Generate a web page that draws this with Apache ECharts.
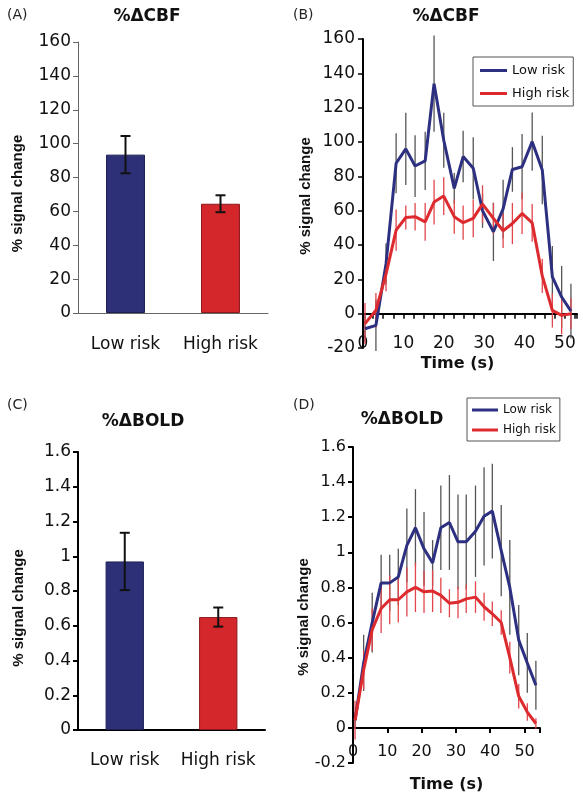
<!DOCTYPE html>
<html>
<head>
<meta charset="utf-8">
<script src="https://cdn.jsdelivr.net/npm/echarts@6/dist/echarts.min.js"></script>
<style>
html,body{margin:0;padding:0;background:#fff;}
#chart{width:583px;height:801px;}
</style>
</head>
<body>
<div id="chart"></div>
<script>
// ---------- data ----------
const groups = ['Low risk', 'High risk'];

// Panel A: %ΔCBF bar means and SE
const cbfMeans = [93.5, 64.5];
const cbfErr = [11, 5];

// Panel C: %ΔBOLD bar means and SE
const boldMeans = [0.97, 0.65];
const boldErr = [0.165, 0.055];

// Panel B: CBF time courses
const timesB = [0.5, 3.2, 5.7, 8.2, 10.6, 12.9, 15.4, 17.6, 20.0, 22.6, 24.8, 27.3, 29.6, 32.3, 34.7, 37.0, 39.4, 41.9, 44.4, 46.9, 49.2, 51.5];
const lowCBF = [-8.8, -6.8, 29, 87.6, 96, 86, 89, 134, 101, 73, 91.5, 84.7, 60, 47.7, 61, 84, 85.6, 100.2, 83.7, 21.4, 9.7, 1.5];
const lowCBFErr = [8, 15, 12, 17.5, 21, 18, 17, 28, 16, 9, 15, 18, 10, 17, 17, 13, 19, 17, 20, 18, 18, 16];
const highCBF = [-5.8, 2, 23, 48.7, 56, 56.5, 53.5, 65, 68.5, 56.5, 53, 55.5, 63.8, 55.5, 48.3, 52.5, 58.4, 52.9, 22, 1.9, -1, 0];
const highCBFErr = [12, 10, 10, 12, 7, 8, 11, 13, 11, 10, 10, 11, 11, 9, 10, 12, 12, 11, 10, 10, 11, 9];

// Panel D: BOLD time courses
const timesD = [0.6, 3.1, 5.6, 8.2, 10.7, 13.2, 15.7, 18.2, 20.7, 23.2, 25.6, 28.1, 30.6, 33.0, 35.7, 38.2, 40.6, 43.2, 45.7, 48.3, 50.8, 53.3];
const lowBOLD = [0.044, 0.37, 0.60, 0.826, 0.826, 0.86, 1.04, 1.14, 1.02, 0.94, 1.14, 1.17, 1.06, 1.06, 1.12, 1.205, 1.235, 1.01, 0.80, 0.50, 0.37, 0.243];
const lowBOLDErr = [0.05, 0.16, 0.17, 0.16, 0.16, 0.16, 0.21, 0.22, 0.21, 0.13, 0.24, 0.27, 0.27, 0.27, 0.26, 0.28, 0.27, 0.26, 0.27, 0.2, 0.17, 0.14];
const highBOLD = [0.044, 0.33, 0.56, 0.68, 0.73, 0.73, 0.775, 0.80, 0.775, 0.78, 0.755, 0.71, 0.715, 0.735, 0.745, 0.69, 0.65, 0.60, 0.40, 0.18, 0.09, 0.025];
const highBOLDErr = [0.11, 0.11, 0.12, 0.14, 0.14, 0.13, 0.14, 0.14, 0.12, 0.12, 0.1, 0.08, 0.09, 0.08, 0.09, 0.08, 0.07, 0.07, 0.09, 0.07, 0.05, 0.03];

// ---------- styling ----------
const BLUE = '#2e3077';
const RED = '#d4272c';
const LINE_BLUE = '#2d3080';
const LINE_RED = '#dc2a2e';
const SANS = 'DejaVu Sans';
const ARIAL = 'Liberation Sans';

function pairs(xs, ys) { return xs.map((x, i) => [x, ys[i]]); }

function errSeries(xi, yi, xs, means, errs, color, width, cap) {
  return {
    type: 'custom', xAxisIndex: xi, yAxisIndex: yi, silent: true, z: cap ? 5 : 1,
    encode: { x: 0, y: [1, 2] },
    data: xs.map((x, i) => [x, means[i] - errs[i], means[i] + errs[i]]),
    renderItem: function (params, api) {
      const lo = api.coord([api.value(0), api.value(1)]);
      const hi = api.coord([api.value(0), api.value(2)]);
      const st = { stroke: color, lineWidth: width };
      const ch = [{ type: 'line', shape: { x1: lo[0], y1: lo[1], x2: hi[0], y2: hi[1] }, style: st }];
      if (cap) {
        ch.push({ type: 'line', shape: { x1: lo[0] - cap, y1: lo[1], x2: lo[0] + cap, y2: lo[1] }, style: st });
        ch.push({ type: 'line', shape: { x1: hi[0] - cap, y1: hi[1], x2: hi[0] + cap, y2: hi[1] }, style: st });
      }
      return { type: 'group', children: ch };
    }
  };
}

function barSeries(xi, yi, means, name) {
  return {
    type: 'bar', name: name, xAxisIndex: xi, yAxisIndex: yi, barWidth: '41%',
    data: means.map((v, i) => ({
      value: v,
      itemStyle: { color: i === 0 ? BLUE : RED, borderColor: i === 0 ? '#1d1f55' : '#8a1a1d', borderWidth: 1 }
    }))
  };
}

function lineSeries(xi, yi, name, xs, ys, color) {
  return {
    type: 'line', name: name, xAxisIndex: xi, yAxisIndex: yi, data: pairs(xs, ys),
    showSymbol: false, symbol: 'none', z: 3,
    lineStyle: { color: color, width: 3 }, itemStyle: { color: color }
  };
}

const tickLabel = { fontFamily: SANS, fontSize: 17, color: '#111' };
const yNameStyle = { fontFamily: ARIAL, fontSize: 15, fontWeight: 'bold', color: '#111' };

const option = {
  backgroundColor: '#fff',
  animation: false,
  grid: [
    { left: 78, top: 42, width: 190, height: 271, outerBoundsMode: 'none' },   // A
    { left: 363, top: 39, width: 214, height: 309, outerBoundsMode: 'none' },  // B
    { left: 78, top: 452, width: 187, height: 278, outerBoundsMode: 'none' },  // C
    { left: 353, top: 447, width: 187, height: 316, outerBoundsMode: 'none' }  // D
  ],
  xAxis: [
    { // A
      type: 'category', gridIndex: 0, data: groups,
      axisLine: { lineStyle: { color: '#666', width: 1 } },
      axisTick: { show: false },
      axisLabel: Object.assign({ margin: 23, interval: 0, hideOverlap: false }, tickLabel)
    },
    { // B zero line with ticks
      type: 'value', gridIndex: 1, min: 0, max: 53, interval: 10, position: 'bottom',
      axisLine: { onZero: true, lineStyle: { color: '#000', width: 2 } },
      axisTick: { show: true, length: 5, lineStyle: { color: '#000', width: 1.5 } },
      minorTick: { show: true, splitNumber: 4, length: 5, lineStyle: { color: '#000', width: 1.5 } },
      axisLabel: { show: false }, splitLine: { show: false }
    },
    { // B labels at bottom
      type: 'value', gridIndex: 1, min: 0, max: 53, interval: 10, position: 'bottom',
      axisLine: { show: false, onZero: false }, axisTick: { show: false }, splitLine: { show: false },
      axisLabel: Object.assign({ margin: -13, showMaxLabel: false }, tickLabel),
      name: 'Time (s)', nameLocation: 'middle', nameGap: 8,
      nameTextStyle: { fontFamily: SANS, fontSize: 16, fontWeight: 'bold', color: '#111', padding: [0, 25, 0, 0] }
    },
    { // C
      type: 'category', gridIndex: 2, data: groups,
      axisLine: { lineStyle: { color: '#000', width: 2 } },
      axisTick: { show: false },
      axisLabel: Object.assign({ margin: 22, interval: 0, hideOverlap: false }, tickLabel)
    },
    { // D zero line
      type: 'value', gridIndex: 3, min: 0, max: 54.5, interval: 10, position: 'bottom',
      axisLine: { onZero: true, lineStyle: { color: '#000', width: 2 } },
      axisTick: { show: true, length: 5, lineStyle: { color: '#000', width: 2 } },
      axisLabel: { show: false }, splitLine: { show: false }
    },
    { // D labels
      type: 'value', gridIndex: 3, min: 0, max: 54.5, interval: 10, position: 'bottom',
      axisLine: { show: false, onZero: false }, axisTick: { show: false }, splitLine: { show: false },
      axisLabel: Object.assign({ margin: -19, showMaxLabel: false }, tickLabel, { fontSize: 16 }),
      name: 'Time (s)', nameLocation: 'middle', nameGap: 14,
      nameTextStyle: { fontFamily: SANS, fontSize: 16, fontWeight: 'bold', color: '#111' }
    }
  ],
  yAxis: [
    { // A
      type: 'value', gridIndex: 0, min: 0, max: 160, interval: 20,
      axisLine: { show: true, onZero: false, lineStyle: { color: '#666', width: 1 } },
      axisTick: { show: true, length: 5, lineStyle: { color: '#666' } },
      splitLine: { show: false }, axisLabel: Object.assign({ margin: 7 }, tickLabel),
      name: '% signal change', nameLocation: 'middle', nameRotate: 90, nameGap: 53,
      nameTextStyle: Object.assign({ padding: [0, 32, 0, 0] }, yNameStyle)
    },
    { // B
      type: 'value', gridIndex: 1, min: -20, max: 160, interval: 20,
      axisLine: { show: true, onZero: false, lineStyle: { color: '#000', width: 2 } },
      axisTick: { show: true, length: 5, lineStyle: { color: '#000', width: 1.5 } },
      splitLine: { show: false }, axisLabel: Object.assign({ margin: 8 }, tickLabel),
      name: '% signal change', nameLocation: 'middle', nameRotate: 90, nameGap: 50,
      nameTextStyle: Object.assign({ padding: [0, 5, 0, 0] }, yNameStyle)
    },
    { // C
      type: 'value', gridIndex: 2, min: 0, max: 1.6, interval: 0.2,
      axisLine: { show: true, onZero: false, lineStyle: { color: '#000', width: 2 } },
      axisTick: { show: true, length: 5, lineStyle: { color: '#000', width: 2 } },
      splitLine: { show: false }, axisLabel: Object.assign({ margin: 7 }, tickLabel),
      name: '% signal change', nameLocation: 'middle', nameRotate: 90, nameGap: 52,
      nameTextStyle: Object.assign({ padding: [0, 34, 0, 0] }, yNameStyle)
    },
    { // D
      type: 'value', gridIndex: 3, min: -0.2, max: 1.6, interval: 0.2,
      axisLine: { show: true, onZero: false, lineStyle: { color: '#000', width: 2 } },
      axisTick: { show: true, length: 5, lineStyle: { color: '#000', width: 2 } },
      splitLine: { show: false }, axisLabel: Object.assign({ margin: 7 }, tickLabel, { fontSize: 16 }),
      name: '% signal change', nameLocation: 'middle', nameRotate: 90, nameGap: 40,
      nameTextStyle: Object.assign({ padding: [0, 24, 0, 0] }, yNameStyle)
    }
  ],
  legend: [
    {
      data: ['Low risk', 'High risk'], orient: 'vertical', left: 473, top: 57,
      padding: [7, 4, 6, 7], itemGap: 10, itemWidth: 27, itemHeight: 3, itemTextGap: 3, icon: 'rect',
      borderColor: '#555', borderWidth: 1, backgroundColor: '#fff',
      textStyle: { fontFamily: SANS, fontSize: 13, color: '#111' }, selectedMode: false
    },
    {
      data: ['Low risk', 'High risk'], orient: 'vertical', left: 467, top: 398,
      padding: [6, 4, 5, 5], itemGap: 8, itemWidth: 26, itemHeight: 3, itemTextGap: 2, icon: 'rect',
      borderColor: '#555', borderWidth: 1, backgroundColor: '#fff',
      textStyle: { fontFamily: SANS, fontSize: 12, color: '#111' }, selectedMode: false
    }
  ],
  graphic: [
    { type: 'text', left: 7, top: 8, style: { text: '(A)', font: '14px "DejaVu Sans"', fill: '#222' } },
    { type: 'text', left: 293, top: 8, style: { text: '(B)', font: '14px "DejaVu Sans"', fill: '#222' } },
    { type: 'text', left: 7, top: 398, style: { text: '(C)', font: '14px "DejaVu Sans"', fill: '#222' } },
    { type: 'text', left: 293, top: 398, style: { text: '(D)', font: '14px "DejaVu Sans"', fill: '#222' } },
    { type: 'text', x: 147, y: 17, style: { text: '%ΔCBF', font: 'bold 17px "DejaVu Sans"', fill: '#111', textAlign: 'center', textVerticalAlign: 'middle' } },
    { type: 'text', x: 446, y: 17, style: { text: '%ΔCBF', font: 'bold 17px "DejaVu Sans"', fill: '#111', textAlign: 'center', textVerticalAlign: 'middle' } },
    { type: 'text', x: 143, y: 422, style: { text: '%ΔBOLD', font: 'bold 17px "DejaVu Sans"', fill: '#111', textAlign: 'center', textVerticalAlign: 'middle' } },
    { type: 'text', x: 402, y: 420, style: { text: '%ΔBOLD', font: 'bold 17px "DejaVu Sans"', fill: '#111', textAlign: 'center', textVerticalAlign: 'middle' } }
  ],
  series: [
    barSeries(0, 0, cbfMeans, 'CBF'),
    errSeries(0, 0, [0, 1], cbfMeans, cbfErr, '#111', 2, 5),
    errSeries(1, 1, timesB, lowCBF, lowCBFErr, '#555', 1.3, 0),
    errSeries(1, 1, timesB, highCBF, highCBFErr, '#e2454b', 1.3, 0),
    lineSeries(1, 1, 'Low risk', timesB, lowCBF, LINE_BLUE),
    lineSeries(1, 1, 'High risk', timesB, highCBF, LINE_RED),
    barSeries(3, 2, boldMeans, 'BOLD'),
    errSeries(3, 2, [0, 1], boldMeans, boldErr, '#111', 2, 5),
    errSeries(4, 3, timesD, lowBOLD, lowBOLDErr, '#555', 1.3, 0),
    errSeries(4, 3, timesD, highBOLD, highBOLDErr, '#e2454b', 1.3, 0),
    lineSeries(4, 3, 'Low risk', timesD, lowBOLD, LINE_BLUE),
    lineSeries(4, 3, 'High risk', timesD, highBOLD, LINE_RED)
  ]
};

const chart = echarts.init(document.getElementById('chart'), null, { renderer: 'canvas' });
chart.setOption(option);
</script>
</body>
</html>
